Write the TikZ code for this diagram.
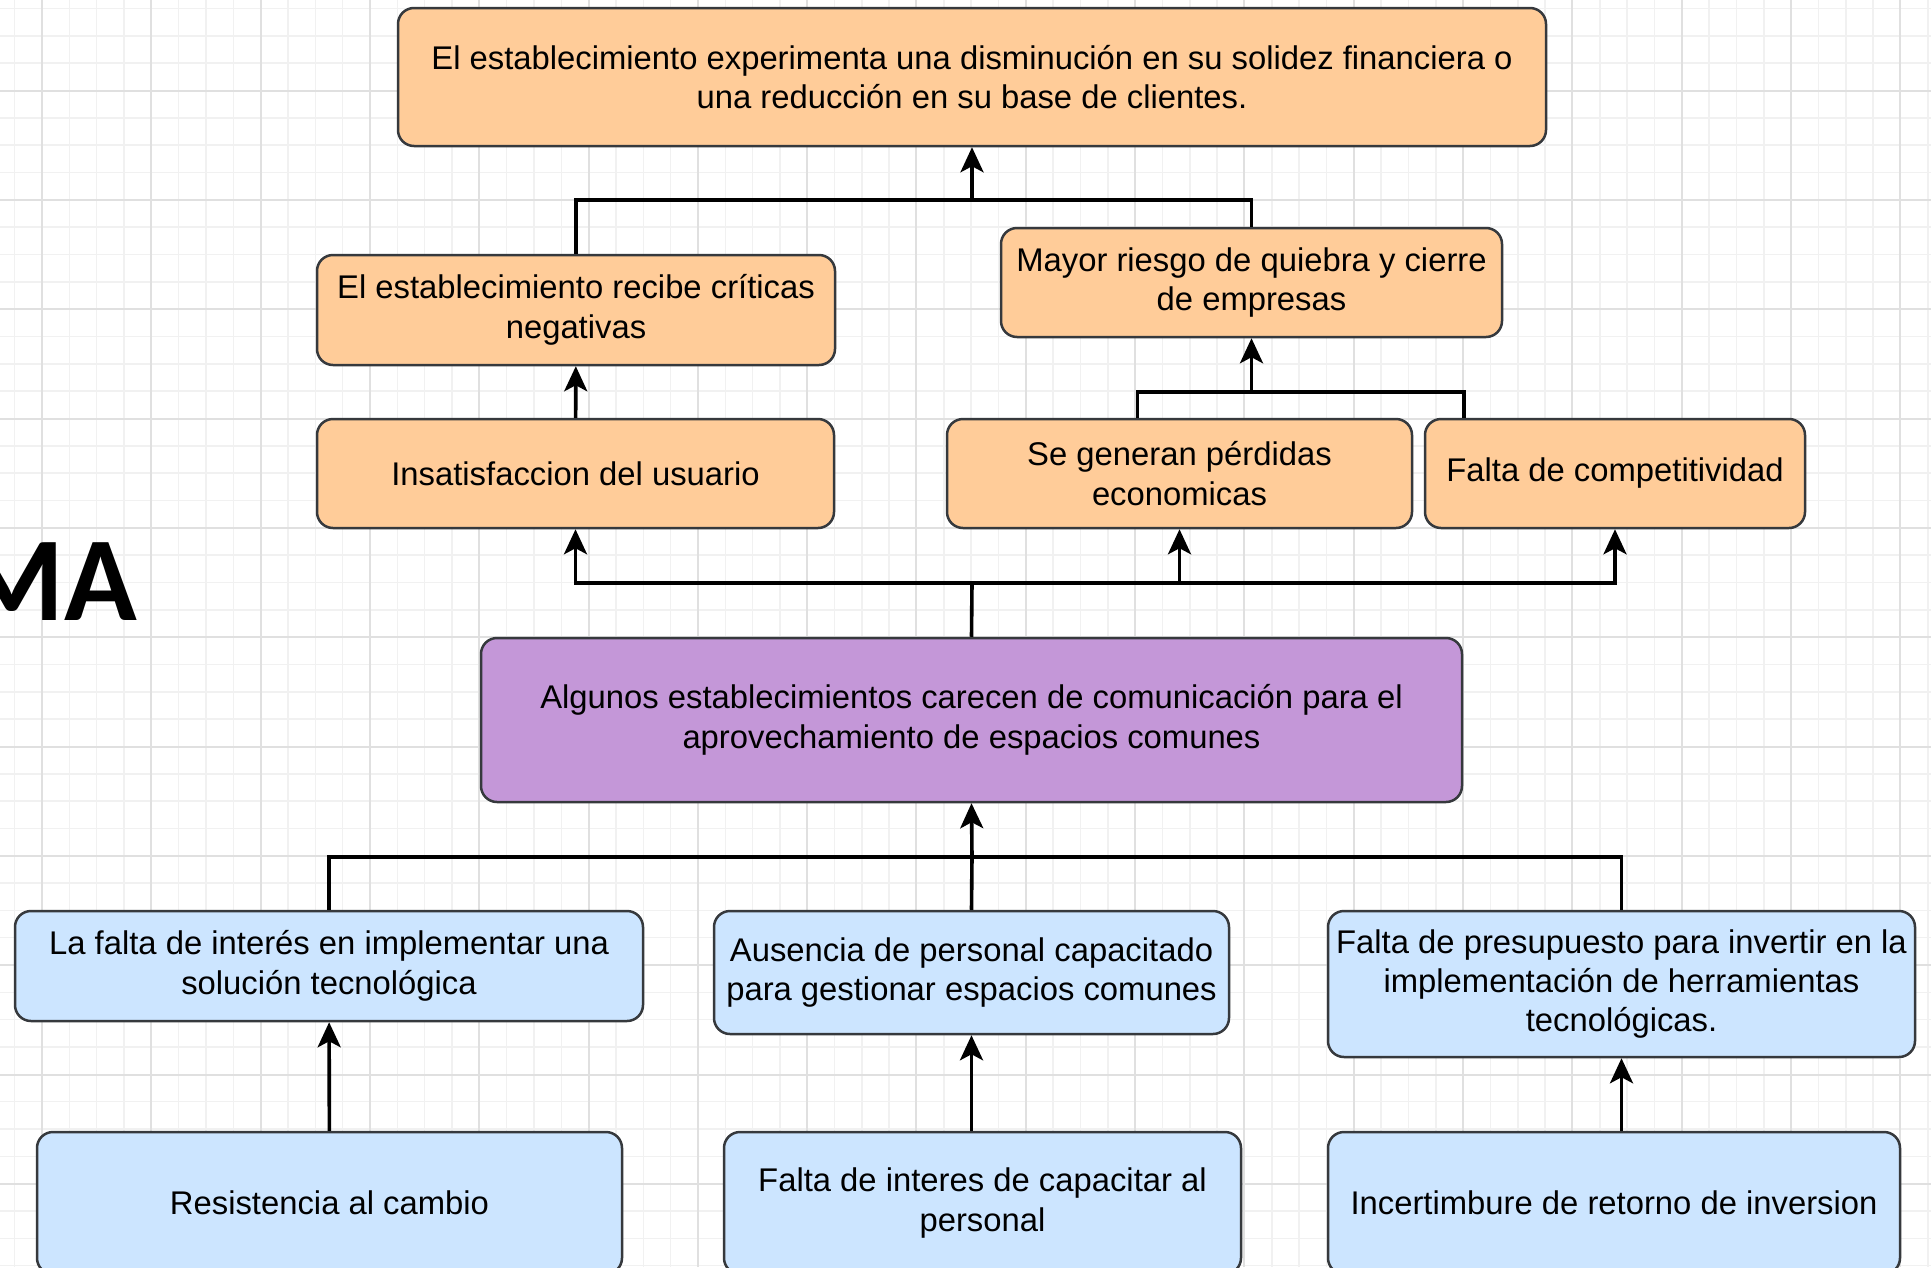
\documentclass[tikz,border=0pt]{standalone}
\usepackage{fontspec}
\setmainfont{Liberation Sans}
\newfontfamily\calibri{Carlito}
\usepackage{tikz}
\usetikzlibrary{arrows.meta}
\definecolor{efectofill}{HTML}{FFCC99}
\definecolor{causafill}{HTML}{CCE5FF}
\definecolor{problemafill}{HTML}{C497D8}
\definecolor{borde}{HTML}{36393D}
\definecolor{gridminor}{HTML}{F1F1F1}
\definecolor{gridmajor}{HTML}{E0E0E0}
\tikzset {
  % cajas del arbol
  caja/.style = {draw=borde, line width=2.5pt, rounded corners=16pt, align=center,
    inner sep=0pt, font=\fontsize{32.8}{39.4}\selectfont},
  efecto/.style = {caja, fill=efectofill},
  causa/.style = {caja, fill=causafill},
  problema/.style = {caja, fill=problemafill},
  % conectores
  linea/.style = {line width=3.6pt},
  flecha/.style = {linea, -{Stealth[length=25pt, width=23pt, inset=6pt]}},
  % cuadricula de fondo
  minor/.style = {gridminor, line width=1.5pt},
  major/.style = {gridmajor, line width=2pt},
}

\begin{document}
\begin{tikzpicture}[x=1pt, y=-1pt]
        \clip (0,0) rectangle (1931,1267);
        \fill[white] (0,0) rectangle (1931,1267);
        \foreach \i in {0,...,71} \draw[minor] ({14.67+27.33*\i},0) -- ++(0,1267);
        \foreach \i in {0,...,47} \draw[minor] (0,{8.5+27.33*\i}) -- ++(1931,0);
        \foreach \i in {0,...,17} \draw[major] ({42+109.3*\i},0) -- ++(0,1267);
        \foreach \i in {0,...,11} \draw[major] (0,{90.5+109.35*\i}) -- ++(1931,0);

        \node[font=\calibri\bfseries\fontsize{120}{120}\selectfont, anchor=base east, inner sep=0pt] (titulo) at (137,620) {MA};

        % efectos
        \node[efecto, minimum width=1148pt, minimum height=138pt] (efecto) at (972,77) {El establecimiento experimenta una disminución en su solidez financiera o\\una reducción en su base de clientes.};
        \node[efecto, minimum width=518pt, minimum height=110pt] (criticas) at (576,310) {El establecimiento recibe críticas\\negativas};
        \node[efecto, minimum width=501pt, minimum height=109pt] (quiebra) at (1251.5,282.5) {Mayor riesgo de quiebra y cierre\\de empresas};
        \node[efecto, minimum width=517pt, minimum height=109pt] (insatisf) at (575.5,473.5) {Insatisfaccion del usuario};
        \node[efecto, minimum width=465pt, minimum height=109pt] (perdidas) at (1179.5,473.5) {Se generan pérdidas\\economicas};
        \node[efecto, minimum width=380pt, minimum height=109pt] (competitividad) at (1615,473.5) {Falta de competitividad};

        % problema central
        \node[problema, minimum width=981pt, minimum height=164pt] (problema) at (971.5,720) {Algunos establecimientos carecen de comunicación para el\\aprovechamiento de espacios comunes};

        % causas
        \node[causa, minimum width=628pt, minimum height=110pt] (interes) at (329,966) {La falta de interés en implementar una\\solución tecnológica};
        \node[causa, minimum width=515pt, minimum height=123pt] (personal) at (971.5,972.5) {Ausencia de personal capacitado\\para gestionar espacios comunes};
        \node[causa, minimum width=587pt, minimum height=146pt] (presupuesto) at (1621.5,984) {Falta de presupuesto para invertir en la\\implementación de herramientas\\tecnológicas.};
        \node[causa, minimum width=585pt, minimum height=142pt] (resistencia) at (329.5,1203) {Resistencia al cambio};
        \node[causa, minimum width=517pt, minimum height=142pt] (capacitar) at (982.5,1203) {Falta de interes de capacitar al\\personal};
        \node[causa, minimum width=572pt, minimum height=142pt] (incertidumbre) at (1614,1203) {Incertimbure de retorno de inversion};

        \coordinate (j1) at (972,200);
        \coordinate (j2) at (1251.5,392);
        \coordinate (j3) at (972,583);
        \coordinate (j4) at (972,857);

        \draw [linea] (criticas.north) |- (j1) -| (quiebra.north);
        \draw [flecha] (j1) to (efecto.south);

        \draw [flecha] (insatisf) to (criticas);

        \draw [linea] ([xshift=-42pt]perdidas.north) |- (j2) -| ([xshift=-151pt]competitividad.north);
        \draw [flecha] (j2) to (quiebra.south);

        \draw [linea] (problema.north) to (j3);
        \draw [flecha] (j3) -| (insatisf.south);
        \draw [flecha] (j3) -| (perdidas.south);
        \draw [flecha] (j3) -| (competitividad.south);

        \draw [linea] (interes.north) |- (j4) -| (presupuesto.north);
        \draw [linea] (personal.north) to (j4);
        \draw [flecha] (j4) to (problema.south);

        \draw [flecha] (resistencia) to (interes);
        \draw [flecha] (capacitar.north -| personal.south) to (personal.south);
        \draw [flecha] (incertidumbre.north -| presupuesto.south) to (presupuesto.south);
      \end{tikzpicture}
\end{document}
